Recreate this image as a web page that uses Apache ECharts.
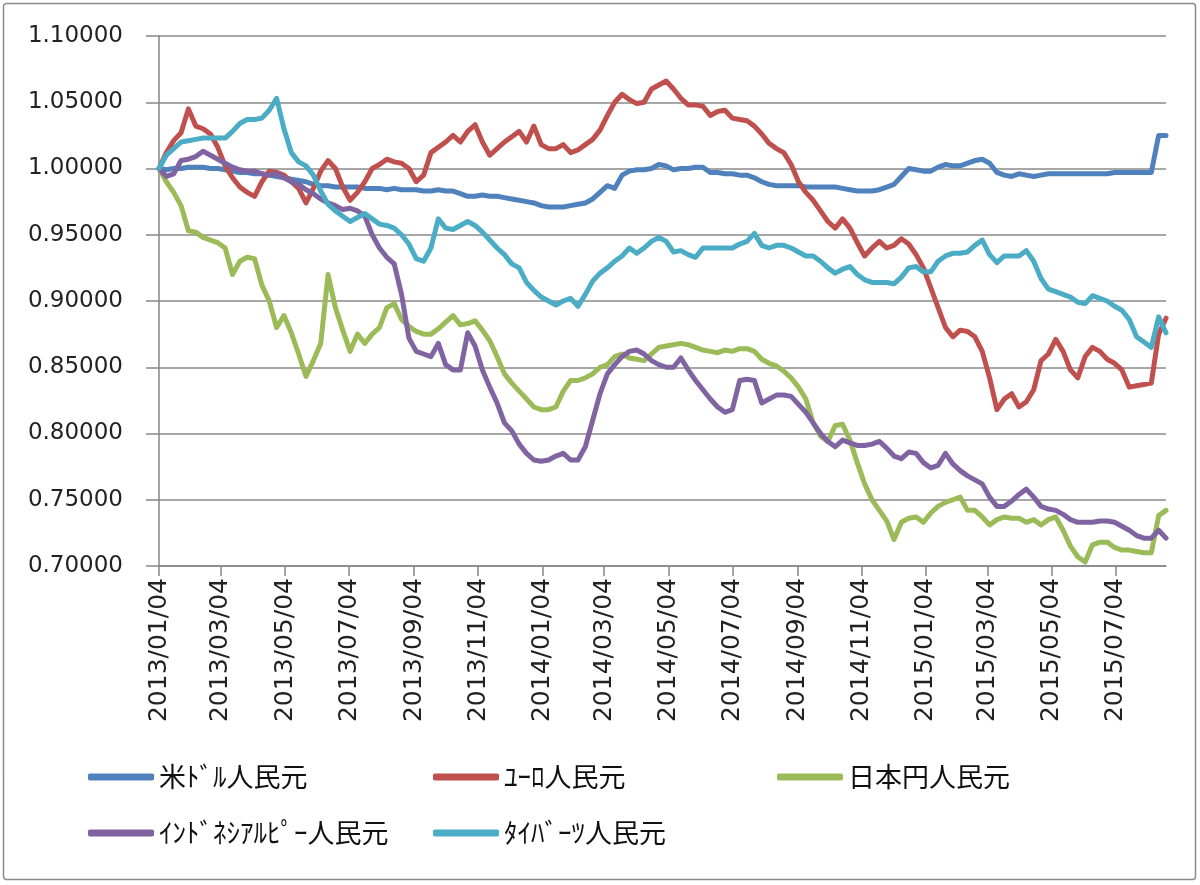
<!DOCTYPE html>
<html>
<head>
<meta charset="utf-8">
<title>人民元 対 各通貨</title>
<script src="https://cdn.jsdelivr.net/npm/echarts@6/dist/echarts.min.js"></script>
<style>
  html, body { margin: 0; padding: 0; background: #fff; }
  #chart { width: 1200px; height: 885px; }
</style>
</head>
<body>
<div id="chart"></div>
<script>
// 週次（金曜日）の日付
var weeks = [
  '2013/01/04','2013/01/11','2013/01/18','2013/01/25','2013/02/01','2013/02/08','2013/02/15','2013/02/22',
  '2013/03/01','2013/03/08','2013/03/15','2013/03/22','2013/03/29','2013/04/05','2013/04/12','2013/04/19',
  '2013/04/26','2013/05/03','2013/05/10','2013/05/17','2013/05/24','2013/05/31','2013/06/07','2013/06/14',
  '2013/06/21','2013/06/28','2013/07/05','2013/07/12','2013/07/19','2013/07/26','2013/08/02','2013/08/09',
  '2013/08/16','2013/08/23','2013/08/30','2013/09/06','2013/09/13','2013/09/20','2013/09/27','2013/10/04',
  '2013/10/11','2013/10/18','2013/10/25','2013/11/01','2013/11/08','2013/11/15','2013/11/22','2013/11/29',
  '2013/12/06','2013/12/13','2013/12/20','2013/12/27',
  '2014/01/03','2014/01/10','2014/01/17','2014/01/24','2014/01/31','2014/02/07','2014/02/14','2014/02/21',
  '2014/02/28','2014/03/07','2014/03/14','2014/03/21','2014/03/28','2014/04/04','2014/04/11','2014/04/18',
  '2014/04/25','2014/05/02','2014/05/09','2014/05/16','2014/05/23','2014/05/30','2014/06/06','2014/06/13',
  '2014/06/20','2014/06/27','2014/07/04','2014/07/11','2014/07/18','2014/07/25','2014/08/01','2014/08/08',
  '2014/08/15','2014/08/22','2014/08/29','2014/09/05','2014/09/12','2014/09/19','2014/09/26','2014/10/03',
  '2014/10/10','2014/10/17','2014/10/24','2014/10/31','2014/11/07','2014/11/14','2014/11/21','2014/11/28',
  '2014/12/05','2014/12/12','2014/12/19','2014/12/26',
  '2015/01/02','2015/01/09','2015/01/16','2015/01/23','2015/01/30','2015/02/06','2015/02/13','2015/02/20',
  '2015/02/27','2015/03/06','2015/03/13','2015/03/20','2015/03/27','2015/04/03','2015/04/10','2015/04/17',
  '2015/04/24','2015/05/01','2015/05/08','2015/05/15','2015/05/22','2015/05/29','2015/06/05','2015/06/12',
  '2015/06/19','2015/06/26','2015/07/03','2015/07/10','2015/07/17','2015/07/24','2015/07/31','2015/08/07',
  '2015/08/14','2015/08/21'
];

// 米ドル
var usd = [
  1.000,0.999,1.000,1.000,1.001,1.001,1.001,1.000,1.000,0.999,
  0.998,0.997,0.997,0.996,0.996,0.995,0.994,0.993,0.992,0.991,
  0.990,0.988,0.987,0.987,0.986,0.986,0.986,0.986,0.985,0.985,
  0.985,0.984,0.985,0.984,0.984,0.984,0.983,0.983,0.984,0.983,
  0.983,0.981,0.979,0.979,0.980,0.979,0.979,0.978,0.977,0.976,
  0.975,0.974,0.972,0.971,0.971,0.971,0.972,0.973,0.974,0.977,
  0.982,0.987,0.985,0.995,0.998,0.999,0.999,1.000,1.003,1.002,
  0.999,1.000,1.000,1.001,1.001,0.997,0.997,0.996,0.996,0.995,
  0.995,0.993,0.990,0.988,0.987,0.987,0.987,0.987,0.986,0.986,
  0.986,0.986,0.986,0.985,0.984,0.983,0.983,0.983,0.984,0.986,
  0.988,0.994,1.000,0.999,0.998,0.998,1.001,1.003,1.002,1.002,
  1.004,1.006,1.007,1.004,0.997,0.995,0.994,0.996,0.995,0.994,
  0.995,0.996,0.996,0.996,0.996,0.996,0.996,0.996,0.996,0.996,
  0.997,0.997,0.997,0.997,0.997,0.997,1.025,1.025
];
// ユーロ
var eur = [
  1.000,1.012,1.021,1.027,1.045,1.032,1.030,1.026,1.016,1.002,
  0.993,0.986,0.982,0.979,0.990,0.998,0.997,0.995,0.990,0.985,
  0.974,0.985,0.998,1.006,1.000,0.986,0.976,0.982,0.990,1.000,
  1.003,1.007,1.005,1.004,1.000,0.990,0.995,1.012,1.016,1.020,
  1.025,1.020,1.028,1.033,1.020,1.010,1.015,1.020,1.024,1.028,
  1.020,1.032,1.018,1.015,1.015,1.018,1.012,1.014,1.018,1.022,
  1.029,1.040,1.050,1.056,1.052,1.049,1.050,1.060,1.063,1.066,
  1.060,1.053,1.048,1.048,1.047,1.040,1.043,1.044,1.038,1.037,
  1.036,1.032,1.026,1.019,1.015,1.012,1.003,0.990,0.982,0.976,
  0.968,0.960,0.955,0.962,0.955,0.944,0.934,0.940,0.945,0.940,
  0.942,0.947,0.943,0.935,0.925,0.910,0.895,0.880,0.873,0.878,
  0.877,0.873,0.862,0.842,0.818,0.826,0.830,0.820,0.824,0.833,
  0.855,0.860,0.871,0.862,0.848,0.842,0.858,0.865,0.862,0.856,
  0.853,0.848,0.835,0.836,0.837,0.838,0.875,0.887
];
// 日本円
var jpy = [
  1.000,0.990,0.982,0.972,0.953,0.952,0.948,0.946,0.944,0.940,
  0.920,0.930,0.933,0.932,0.912,0.900,0.880,0.889,0.876,0.860,
  0.843,0.855,0.868,0.920,0.895,0.878,0.862,0.875,0.868,0.875,
  0.880,0.895,0.898,0.886,0.881,0.877,0.875,0.875,0.879,0.884,
  0.889,0.882,0.883,0.885,0.878,0.870,0.858,0.845,0.838,0.832,
  0.826,0.820,0.818,0.818,0.820,0.832,0.840,0.840,0.842,0.845,
  0.850,0.852,0.858,0.860,0.857,0.856,0.855,0.860,0.865,0.866,
  0.867,0.868,0.867,0.865,0.863,0.862,0.861,0.863,0.862,0.864,
  0.864,0.862,0.856,0.853,0.851,0.847,0.842,0.835,0.826,0.808,
  0.798,0.794,0.806,0.807,0.795,0.778,0.762,0.750,0.742,0.734,
  0.720,0.733,0.736,0.737,0.733,0.740,0.745,0.748,0.750,0.752,
  0.742,0.742,0.737,0.731,0.735,0.737,0.736,0.736,0.733,0.735,
  0.731,0.735,0.737,0.727,0.715,0.707,0.703,0.716,0.718,0.718,
  0.714,0.712,0.712,0.711,0.710,0.710,0.738,0.742
];
// インドネシアルピー
var idr = [
  1.000,0.994,0.996,1.006,1.007,1.009,1.013,1.010,1.007,1.004,
  1.001,0.999,0.998,0.998,0.996,0.995,0.996,0.993,0.990,0.988,
  0.984,0.981,0.977,0.974,0.972,0.969,0.970,0.968,0.964,0.950,
  0.940,0.933,0.928,0.905,0.872,0.862,0.860,0.858,0.868,0.852,
  0.848,0.848,0.876,0.866,0.848,0.835,0.823,0.808,0.802,0.792,
  0.785,0.780,0.779,0.780,0.783,0.785,0.780,0.780,0.790,0.810,
  0.830,0.845,0.852,0.858,0.862,0.863,0.860,0.855,0.852,0.850,
  0.850,0.857,0.848,0.840,0.833,0.826,0.820,0.816,0.818,0.840,
  0.841,0.840,0.823,0.826,0.829,0.829,0.828,0.822,0.816,0.808,
  0.800,0.794,0.790,0.795,0.793,0.791,0.791,0.792,0.794,0.789,
  0.783,0.781,0.786,0.785,0.778,0.774,0.776,0.785,0.777,0.772,
  0.768,0.765,0.762,0.752,0.745,0.745,0.749,0.754,0.758,0.752,
  0.745,0.743,0.742,0.739,0.735,0.733,0.733,0.733,0.734,0.734,
  0.733,0.730,0.727,0.723,0.721,0.721,0.727,0.721
];
// タイバーツ
var thb = [
  1.000,1.010,1.015,1.020,1.021,1.022,1.023,1.023,1.023,1.023,
  1.028,1.034,1.037,1.037,1.038,1.044,1.053,1.030,1.012,1.005,
  1.002,0.995,0.983,0.973,0.968,0.964,0.960,0.963,0.966,0.962,
  0.958,0.957,0.955,0.950,0.943,0.932,0.930,0.940,0.962,0.955,
  0.954,0.957,0.960,0.957,0.952,0.946,0.940,0.935,0.928,0.925,
  0.914,0.908,0.903,0.900,0.897,0.900,0.902,0.896,0.905,0.915,
  0.921,0.925,0.930,0.934,0.940,0.936,0.940,0.945,0.948,0.945,
  0.937,0.938,0.935,0.933,0.940,0.940,0.940,0.940,0.940,0.943,
  0.945,0.951,0.942,0.940,0.942,0.942,0.940,0.937,0.934,0.934,
  0.930,0.925,0.921,0.924,0.926,0.920,0.916,0.914,0.914,0.914,
  0.913,0.918,0.925,0.926,0.922,0.922,0.930,0.934,0.936,0.936,
  0.937,0.942,0.946,0.935,0.929,0.934,0.934,0.934,0.938,0.930,
  0.917,0.909,0.907,0.905,0.903,0.899,0.898,0.904,0.902,0.900,
  0.896,0.893,0.886,0.873,0.869,0.865,0.888,0.876
];

// 目盛ラベル
var tickDates = [
  '2013/01/04','2013/03/04','2013/05/04','2013/07/04','2013/09/04','2013/11/04',
  '2014/01/04','2014/03/04','2014/05/04','2014/07/04','2014/09/04','2014/11/04',
  '2015/01/04','2015/03/04','2015/05/04','2015/07/04'
];

var seriesNames = ['米ﾄﾞﾙ人民元', 'ﾕｰﾛ人民元', '日本円人民元', 'ｲﾝﾄﾞﾈｼｱﾙﾋﾟｰ人民元', 'ﾀｲﾊﾞｰﾂ人民元'];
var seriesValues = [usd, eur, jpy, idr, thb];
var colors = ['#4F81BD', '#C0504D', '#9BBB59', '#8064A2', '#4BACC6'];

// x軸は起点日からの日数で扱う
var DAY = 86400000;
var base = Date.UTC(2013, 0, 4);
function toDay(s) {
  var p = s.split('/');
  return Math.round((Date.UTC(+p[0], +p[1] - 1, +p[2]) - base) / DAY);
}
function pad(n) { return (n < 10 ? '0' : '') + n; }
function fmtDay(v) {
  var d = new Date(base + v * DAY);
  return d.getUTCFullYear() + '/' + pad(d.getUTCMonth() + 1) + '/' + pad(d.getUTCDate());
}

var tickDays = tickDates.map(toDay);
var axisGray = '#868686';

var series = [];
for (var k = 0; k < seriesNames.length; k++) {
  (function (vals, k) {
    series.push({
      name: seriesNames[k],
      type: 'line',
      showSymbol: false,
      symbol: 'none',
      smooth: false,
      data: weeks.map(function (w, i) { return [toDay(w), vals[i]]; }),
      lineStyle: { width: 5, color: colors[k], cap: 'round', join: 'round' },
      itemStyle: { color: colors[k] }
    });
  })(seriesValues[k], k);
}

// 凡例（3列）
var legendPos = [[88, 762], [433, 762], [777, 762], [88, 818], [433, 818]];
var legends = seriesNames.map(function (n, i) {
  return {
    data: [n],
    left: legendPos[i][0],
    top: legendPos[i][1],
    padding: 0,
    icon: 'roundRect',
    itemWidth: 66,
    itemHeight: 7,
    textStyle: { fontSize: 27, lineHeight: 30, fontFamily: 'Noto Sans CJK JP', color: '#111' }
  };
});

var myChart = echarts.init(document.getElementById('chart'));
var option = {
  backgroundColor: '#fff',
  animation: false,
  color: colors,
  grid: { left: 159, right: 34, top: 36, bottom: 319 },
  legend: legends,
  graphic: [{
    type: 'rect',
    shape: { x: 3.5, y: 3.5, width: 1192, height: 876, r: 3 },
    style: { fill: null, stroke: '#8a8a8a', lineWidth: 1.5 },
    silent: true
  }],
  xAxis: {
    type: 'value',
    min: 0,
    max: toDay(weeks[weeks.length - 1]),
    axisLine: { lineStyle: { color: axisGray, width: 1.5 } },
    axisTick: { show: true, customValues: tickDays, length: 10, lineStyle: { color: axisGray, width: 1.5 } },
    axisLabel: {
      customValues: tickDays,
      rotate: 90,
      margin: 12,
      fontSize: 25,
      fontFamily: 'DejaVu Sans',
      color: '#222',
      formatter: function (v) { return fmtDay(v); }
    },
    splitLine: { show: false }
  },
  yAxis: {
    type: 'value',
    min: 0.7,
    max: 1.1,
    interval: 0.05,
    axisLine: { show: true, lineStyle: { color: axisGray, width: 1.5 } },
    axisTick: { show: true, length: 13, lineStyle: { color: axisGray, width: 1.5 } },
    axisLabel: {
      margin: 36,
      fontSize: 23,
      fontFamily: 'DejaVu Sans',
      color: '#222',
      formatter: function (v) { return v.toFixed(5); }
    },
    splitLine: { show: true, lineStyle: { color: '#8a8a8a', width: 1.5 } }
  },
  series: series
};
myChart.setOption(option);
</script>
</body>
</html>
